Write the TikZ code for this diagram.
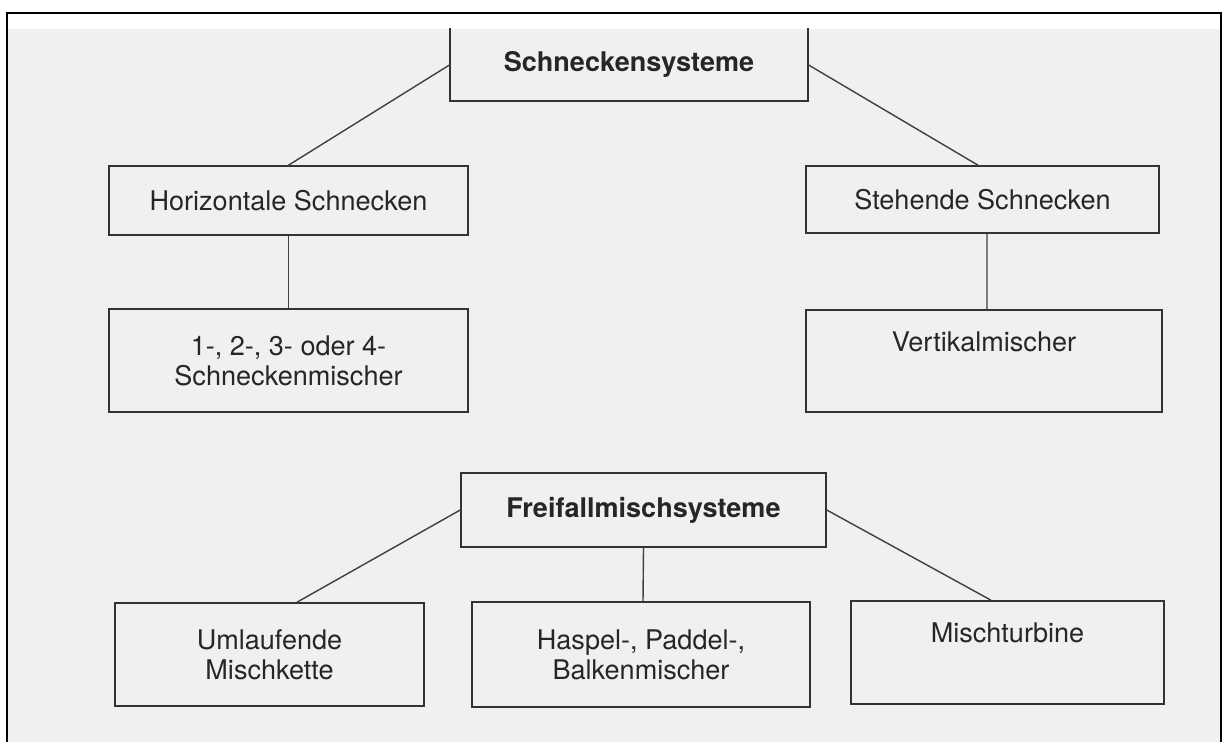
\documentclass[tikz,border=0pt]{standalone}
\usepackage{fontspec}
\setmainfont{TeX Gyre Heros}
\tikzset{
	category/.style={
		rectangle,
		draw=black!80,
		line width=0.9pt,
		text=black!85,
		align=center,
		inner sep=0pt,
		font=\fontsize{15.4pt}{17.2pt}\selectfont,
	},
	heading/.style={
		category,
		font=\fontsize{15.4pt}{17.2pt}\selectfont\bfseries,
	},
	connector/.style={
		draw=black!75,
		line width=0.8pt,
	},
}

\begin{document}
\begin{tikzpicture}[x=0.02cm, y=-0.02cm]

	% page and scanned area
	\useasboundingbox (0,0) rectangle (1225,742) ;
	\fill[black!6] (7,29) rectangle (1221,742) ;
	\draw[line width=1.5pt] (7,742) -- (7,13) -- (1221,13) -- (1221,742) ;

	% Schneckensysteme (top edge lies outside the scan)
	\node[heading, draw=none, minimum width=7.12cm, minimum height=1.42cm] (schnecken) at (629,64.5) {Schneckensysteme} ;
	\draw[black!80, line width=0.9pt] (schnecken.north west) |- (schnecken.south east) -- (schnecken.north east) ;

	\node[category, minimum width=7.18cm, minimum height=1.38cm] (horizontal) at (288.5,200.5) {Horizontale Schnecken} ;
	\node[category, minimum width=7.06cm, minimum height=1.34cm] (stehend) at (982.5,199.5) {Stehende Schnecken} ;

	\node[category, minimum width=7.18cm, minimum height=2.06cm] (mehrwellen) at (288.5,360.5) {1-, 2-, 3- oder 4-\\Schneckenmischer} ;
	\node[category, minimum width=7.12cm, minimum height=2.04cm] (vertikal) at (984,361) {Vertikalmischer\\\strut} ;

	% Freifallmischsysteme
	\node[heading, minimum width=7.3cm, minimum height=1.48cm] (freifall) at (643.5,510) {Freifallmischsysteme} ;

	\node[category, minimum width=6.18cm, minimum height=2.06cm] (kette) at (269.5,654.5) {Umlaufende\\Mischkette} ;
	\node[category, minimum width=6.76cm, minimum height=2.1cm] (haspel) at (641,654.5) {Haspel-, Paddel-,\\Balkenmischer} ;
	\node[category, minimum width=6.26cm, minimum height=2.06cm] (turbine) at (1007.5,652.5) {Mischturbine\\\strut} ;

	\draw[connector] (schnecken.west) -- (horizontal.north) ;
	\draw[connector] (schnecken.east) -- ([xshift=-0.09cm]stehend.north) ;

	\draw[connector] (horizontal.south) -- (mehrwellen.north) ;
	\draw[connector] ([xshift=0.09cm]stehend.south) -- ([xshift=0.06cm]vertikal.north) ;

	\draw[connector] (freifall.west) -- ([xshift=0.55cm]kette.north) ;
	\draw[connector] (freifall.south) -- ([xshift=0.04cm]haspel.north) ;
	\draw[connector] (freifall.east) -- ([xshift=-0.33cm]turbine.north) ;

\end{tikzpicture}
\end{document}
